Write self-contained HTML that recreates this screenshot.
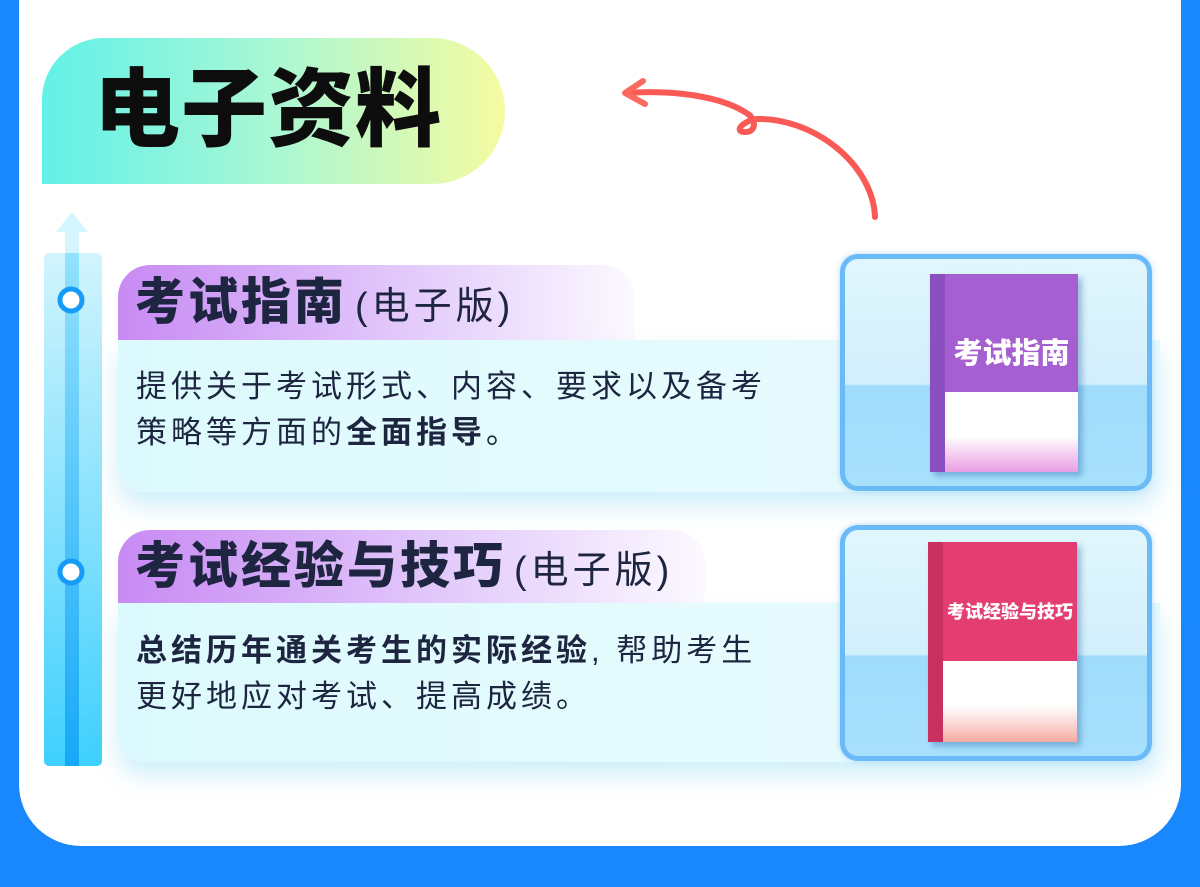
<!DOCTYPE html>
<html><head><meta charset="utf-8"><style>
*{margin:0;padding:0;box-sizing:border-box}
body{width:1200px;height:887px;background:#1a88fd;position:relative;overflow:hidden;font-family:"Liberation Sans","Noto Sans CJK SC",sans-serif;color:#1d2540}
.abs{position:absolute}
.white{left:19px;top:0;width:1162px;height:846px;background:#fff;border-radius:0 0 62px 62px}
.title{left:42px;top:38px;width:463px;height:146px;border-radius:62px 73px 73px 0;background:linear-gradient(90deg,#62f1e8 0%,#a9f7d4 50%,#f5fba0 100%)}
.title span{position:absolute;left:52px;top:22px;font-size:86px;font-weight:900;color:#0d0d0d;letter-spacing:1px;line-height:100px}
.body{background:linear-gradient(90deg,#dcfafd 0%,#e6fbfd 60%,#e4f8fd 100%);border-radius:0 0 26px 26px;box-shadow:0 14px 24px rgba(120,210,240,.35)}
.head{border-radius:32px 32px 0 0;background:linear-gradient(90deg,#c88af3 0%,#e2c9fb 55%,rgba(248,240,255,.4) 100%)}
.head b{position:absolute;left:17px;font-size:50px;letter-spacing:3px;font-weight:900;line-height:75px;color:#1d2540;white-space:nowrap}
.head b i{font-style:normal;font-weight:400;font-size:38px;letter-spacing:4px;margin-left:8px}
.txt{font-size:31px;line-height:46px;letter-spacing:4px;white-space:nowrap}
.frame{border:5px solid #6bbaf8;border-radius:18px;background:linear-gradient(180deg,#e0f6fc 0%,#d2effc 55%,#9fdcfb 56%,#a8e0fc 100%);overflow:hidden;box-shadow:0 0 6px rgba(100,180,250,.5)}
.book{overflow:hidden;box-shadow:4px 4px 6px rgba(0,60,140,.3)}
.book .spine{position:absolute;left:0;top:0;bottom:0;width:15px}
.book .cov{position:absolute;left:15px;right:0;top:0}
.book .lo{position:absolute;left:15px;right:0;bottom:0;background:#fff}
.book .bt{position:absolute;left:15px;right:0;color:#fff;font-weight:900;text-align:center;white-space:nowrap}
</style></head><body>
<div class="abs white"></div>
<div class="abs title"><span>电子资料</span></div>

<svg class="abs" style="left:0;top:0" width="1200" height="887">
<defs>
<linearGradient id="bar" x1="0" y1="0" x2="0" y2="1"><stop offset="0" stop-color="#d2f4fd"/><stop offset="1" stop-color="#3fd0fd"/></linearGradient>
<linearGradient id="str" x1="0" y1="0" x2="0" y2="1"><stop offset="0" stop-color="#92e2fd"/><stop offset="1" stop-color="#16a8f8"/></linearGradient>
</defs>
<path d="M875,217 C873,165 815,118 757,119 C745,120 733,131 744,132 C756,133 757,120 748,114 C720,95 670,90 627,93" fill="none" stroke="#fa5a55" stroke-width="6" stroke-linecap="round"/>
<path d="M643,81 L625,93 L645,104" fill="none" stroke="#fa6a5e" stroke-width="6" stroke-linecap="round" stroke-linejoin="round"/>
<path d="M56,232 L72,212 L88,232 Z" fill="#d4f5fd"/>
<rect x="65" y="232" width="14" height="30" fill="#d4f5fd"/>
<rect x="44" y="253" width="58" height="513" rx="5" fill="url(#bar)"/>
<rect x="65" y="253" width="14" height="513" fill="url(#str)"/>
<circle cx="71" cy="300" r="11" fill="#fff" stroke="#169cf5" stroke-width="5"/>
<circle cx="71" cy="572" r="11" fill="#fff" stroke="#169cf5" stroke-width="5"/>
</svg>

<!-- card 1 -->
<div class="abs body" style="left:118px;top:340px;width:1042px;height:152px"></div>
<div class="abs head" style="left:118px;top:265px;width:517px;height:75px"><b>考试指南<i>(电子版)</i></b></div>
<div class="abs txt" style="left:136px;top:364px">提供关于考试形式、内容、要求以及备考<br>策略等方面的<b>全面指导</b>。</div>
<div class="abs frame" style="left:840px;top:254px;width:312px;height:237px"></div>
<div class="abs book" style="left:930px;top:274px;width:148px;height:198px">
<div class="spine" style="background:#8c4fc0"></div>
<div class="cov" style="height:118px;background:#a65fd0"></div>
<div class="lo" style="height:80px;background:linear-gradient(180deg,#fff 55%,#f3c9f0 80%,#e89ee3 100%)"></div>
<div class="bt" style="top:56px;font-size:29px">考试指南</div>
</div>

<!-- card 2 -->
<div class="abs body" style="left:118px;top:603px;width:1042px;height:159px"></div>
<div class="abs head" style="left:118px;top:530px;width:587px;height:73px"><b style="line-height:73px">考试经验与技巧<i>(电子版)</i></b></div>
<div class="abs txt" style="left:136px;top:628px"><b>总结历年通关考生的实际经验</b>, 帮助考生<br>更好地应对考试、提高成绩。</div>
<div class="abs frame" style="left:840px;top:525px;width:312px;height:236px"></div>
<div class="abs book" style="left:928px;top:542px;width:149px;height:200px">
<div class="spine" style="background:#c8305f"></div>
<div class="cov" style="height:119px;background:#e43d72"></div>
<div class="lo" style="height:81px;background:linear-gradient(180deg,#fff 55%,#fbd3d0 80%,#f5a9a0 100%)"></div>
<div class="bt" style="top:56px;font-size:18px">考试经验与技巧</div>
</div>
</body></html>
